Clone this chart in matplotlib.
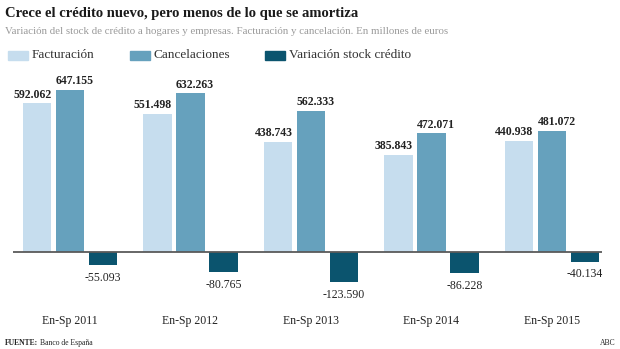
import numpy as np
import matplotlib.pyplot as plt
from matplotlib.patches import Rectangle
from matplotlib.transforms import blended_transform_factory

periods = ["En-Sp 2011", "En-Sp 2012", "En-Sp 2013", "En-Sp 2014", "En-Sp 2015"]
facturacion = [592.062, 551.498, 438.743, 385.843, 440.938]
cancelaciones = [647.155, 632.263, 562.333, 472.071, 481.072]
variacion = [-55.093, -80.765, -123.590, -86.228, -40.134]
series_names = ["Facturación", "Cancelaciones", "Variación stock crédito"]
colors = ["#c6ddee", "#66a1bd", "#0b546e"]

plt.rcParams['font.family'] = ['Liberation Serif', 'DejaVu Serif']

W, H = 620, 349
fig = plt.figure(figsize=(W / 100, H / 100), dpi=100)

# axes placed in pixel terms: x from 13 to 602, y from 80 to 300 (from top)
ax = fig.add_axes([13 / W, (H - 300) / H, 589 / W, 220 / H])
x = np.arange(len(periods))
xmin, xmax = -57 / 120.5, 532 / 120.5
ymin, ymax = -(300 - 251.5) / 0.25, (251.5 - 80) / 0.25
ax.set_xlim(xmin, xmax)
ax.set_ylim(ymin, ymax)
ax.axis("off")

w = 0.24
off = 0.274
ax.bar(x - off, facturacion, w, color=colors[0], zorder=2)
ax.bar(x, cancelaciones, w, color=colors[1], zorder=2)
ax.bar(x + off, variacion, w, color=colors[2], zorder=2)
ax.axhline(0, color="#5a5a5a", lw=1.3, zorder=3)

def fmt(v):
    return f"{v:.3f}"

for i in range(len(periods)):
    # facturacion label sits flush with right edge of its bar, cancelaciones with left edge
    ax.annotate(fmt(facturacion[i]), (x[i] - off + w / 2, facturacion[i]), xytext=(0, 2),
                textcoords="offset points", ha="right", va="bottom",
                fontsize=8.5, color="#222222", fontweight="bold")
    ax.annotate(fmt(cancelaciones[i]), (x[i] - w / 2, cancelaciones[i]), xytext=(0, 2),
                textcoords="offset points", ha="left", va="bottom",
                fontsize=8.5, color="#222222", fontweight="bold")
    ax.annotate(fmt(variacion[i]), (x[i] + off, variacion[i]), xytext=(0, -5),
                textcoords="offset points", ha="center", va="top",
                fontsize=8.5, color="#222222")

trans = blended_transform_factory(ax.transData, fig.transFigure)
for i, p in enumerate(periods):
    ax.text(x[i], 1 - 321 / H, p, transform=trans, ha="center", va="center",
            fontsize=8.5, color="#222222")

# titles
fig.text(5 / W, 1 - 14 / H, "Crece el crédito nuevo, pero menos de lo que se amortiza",
         fontsize=10.5, fontweight="bold", color="#1a1a1a", va="center", ha="left")
fig.text(5 / W, 1 - 31 / H,
         "Variación del stock de crédito a hogares y empresas. Facturación y cancelación. En millones de euros",
         fontsize=7.8, color="#9a9a9a", va="center", ha="left")

# legend
leg_x = [8, 130, 265]
for lx, name, c in zip(leg_x, series_names, colors):
    fig.patches.append(Rectangle((lx / W, 1 - 60 / H), 20 / W, 9 / H,
                                 transform=fig.transFigure, color=c))
    fig.text((lx + 24) / W, 1 - 55.5 / H, name, fontsize=9.5, color="#333333",
             va="center", ha="left")

# footer
fig.text(5 / W, 1 - 343 / H, "FUENTE:", fontsize=5.5, fontweight="bold",
         color="#222222", va="center", ha="left")
fig.text(40 / W, 1 - 343 / H, "Banco de España", fontsize=5.5, color="#222222",
         va="center", ha="left")
fig.text(616 / W, 1 - 343 / H, "ABC", fontsize=5.5, color="#222222",
         va="center", ha="right")

fig.savefig("out.png", dpi=100, facecolor="white")
